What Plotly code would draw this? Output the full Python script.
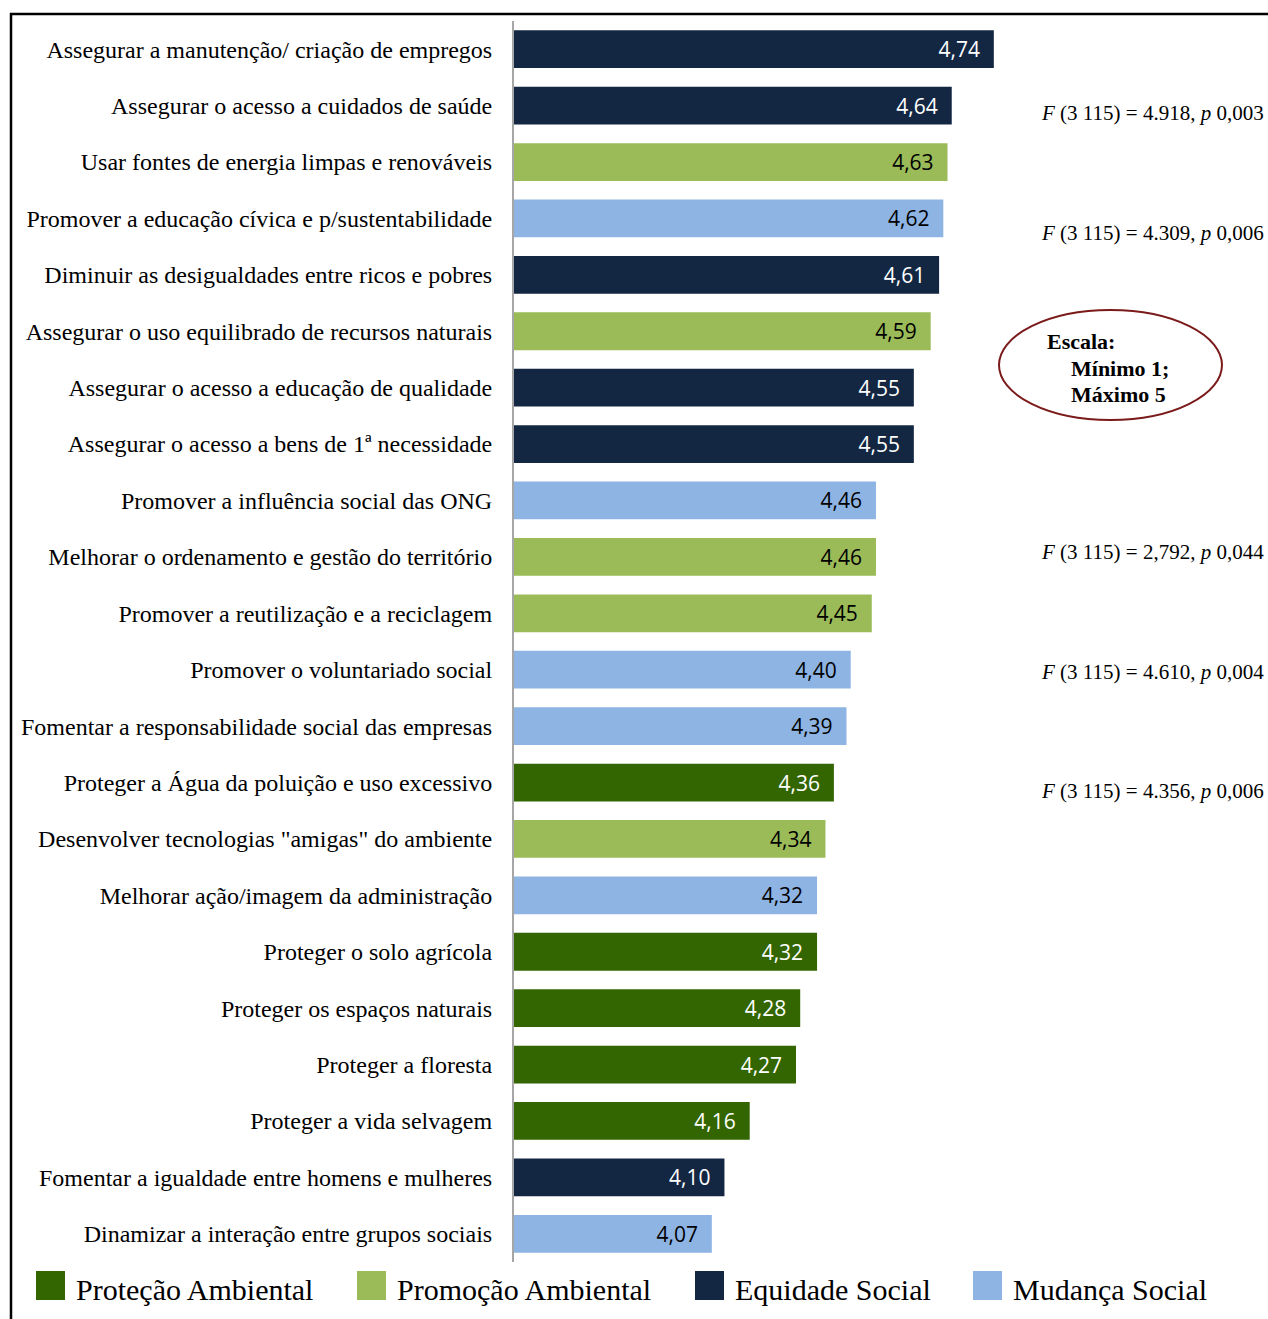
import plotly.graph_objects as go

categories = [
    "Assegurar a manutenção/ criação de empregos",
    "Assegurar o acesso a cuidados de saúde",
    "Usar fontes de energia limpas e renováveis",
    "Promover a educação cívica e p/sustentabilidade",
    "Diminuir as desigualdades entre ricos e pobres",
    "Assegurar o uso equilibrado de recursos naturais",
    "Assegurar o acesso a educação de qualidade",
    "Assegurar o acesso a bens de 1ª necessidade",
    "Promover a influência social das ONG",
    "Melhorar o ordenamento e gestão do território",
    "Promover a reutilização e a reciclagem",
    "Promover o voluntariado social",
    "Fomentar a responsabilidade social das empresas",
    "Proteger a Água da poluição e uso excessivo",
    "Desenvolver tecnologias \"amigas\" do ambiente",
    "Melhorar ação/imagem da administração",
    "Proteger o solo agrícola",
    "Proteger os espaços naturais",
    "Proteger a floresta",
    "Proteger a vida selvagem",
    "Fomentar a igualdade entre homens e mulheres",
    "Dinamizar a interação entre grupos sociais",
]
values = [4.74, 4.64, 4.63, 4.62, 4.61, 4.59, 4.55, 4.55, 4.46, 4.46, 4.45,
          4.40, 4.39, 4.36, 4.34, 4.32, 4.32, 4.28, 4.27, 4.16, 4.10, 4.07]
groups = ["ES", "ES", "PR", "MS", "ES", "PR", "ES", "ES", "MS", "PR", "PR",
          "MS", "MS", "PA", "PR", "MS", "PA", "PA", "PA", "PA", "ES", "MS"]

group_order = ["PA", "PR", "ES", "MS"]
group_names = {"PA": "Proteção Ambiental", "PR": "Promoção Ambiental",
               "ES": "Equidade Social", "MS": "Mudança Social"}
group_colors = {"PA": "#336600", "PR": "#9BBB59", "ES": "#132743", "MS": "#8EB4E3"}
group_text = {"PA": "white", "PR": "black", "ES": "white", "MS": "black"}

f_texts = [
    "<i>F</i> (3 115) = 4.918, <i>p</i> 0,003",
    "<i>F</i> (3 115) = 4.309, <i>p</i> 0,006",
    "<i>F</i> (3 115) = 2,792, <i>p</i> 0,044",
    "<i>F</i> (3 115) = 4.610, <i>p</i> 0,004",
    "<i>F</i> (3 115) = 4.356, <i>p</i> 0,006",
]
f_ypix = [113, 233, 552, 672, 791]

AXIS_MIN = 3.6

W, H = 1268, 1319
L, R, T, B = 514, 0, 21, 57
PW, PH = W - L - R, H - T - B


def px(x):
    return (x - L) / PW


def py(y):
    return (H - B - y) / PH


fig = go.Figure()
NB = "\u00a0\u00a0"
for g in group_order:
    ys = [c for c, gg in zip(categories, groups) if gg == g]
    xs = [v for v, gg in zip(values, groups) if gg == g]
    fig.add_trace(go.Bar(
        y=ys, x=[v - AXIS_MIN for v in xs], orientation="h", base=0,
        marker=dict(color=group_colors[g], line=dict(width=0)),
        text=[f"{v:.2f}".replace(".", ",") + NB for v in xs],
        textposition="inside", insidetextanchor="end", textangle=0,
        constraintext="none",
        textfont=dict(family="Open Sans", size=21, color=group_text[g]),
        showlegend=False, hoverinfo="skip",
    ))

x_max = AXIS_MIN + PW / 420.9

fig.update_layout(
    width=W, height=H,
    margin=dict(l=L, r=R, t=T, b=B, pad=0),
    paper_bgcolor="white", plot_bgcolor="white",
    bargap=0.33, barmode="overlay",
    xaxis=dict(range=[0, x_max - AXIS_MIN], visible=False),
    yaxis=dict(
        type="category", categoryorder="array", categoryarray=categories,
        range=[21.5, -0.5], showline=True, linecolor="#A6A6A6", linewidth=2,
        ticks="", showgrid=False, zeroline=False, ticklabelstandoff=15,
        tickfont=dict(family="Liberation Serif", size=24, color="black"),
    ),
)

annotations = []
for t, yy in zip(f_texts, f_ypix):
    annotations.append(dict(
        text=t, xref="paper", yref="paper", x=px(1266), y=py(yy),
        xanchor="right", yanchor="middle", showarrow=False,
        font=dict(family="Liberation Serif", size=21, color="black"),
    ))

# scale ellipse
shapes = [dict(type="circle", xref="paper", yref="paper",
               x0=px(999), x1=px(1222), y0=py(420), y1=py(310),
               line=dict(color="#7B1A1A", width=2))]
for t, xx, yy in [("Escala:", 1045, 341), ("Mínimo 1;", 1069, 368), ("Máximo 5", 1069, 394)]:
    annotations.append(dict(
        text=f"<b>{t}</b>", xref="paper", yref="paper", x=px(xx), y=py(yy),
        xanchor="left", yanchor="middle", showarrow=False,
        font=dict(family="Liberation Serif", size=22, color="black"),
    ))

# legend
legend_x = [36, 357, 695, 973]
for g, lx in zip(group_order, legend_x):
    shapes.append(dict(type="rect", xref="paper", yref="paper",
                       x0=px(lx), x1=px(lx + 29), y0=py(1300), y1=py(1271),
                       fillcolor=group_colors[g], line=dict(width=0)))
    annotations.append(dict(
        text=group_names[g], xref="paper", yref="paper", x=px(lx + 38), y=py(1289),
        xanchor="left", yanchor="middle", showarrow=False,
        font=dict(family="Liberation Serif", size=30, color="black"),
    ))

# frame
shapes.append(dict(type="line", xref="paper", yref="paper",
                   x0=px(10), x1=px(1270), y0=py(14), y1=py(14),
                   line=dict(color="black", width=2.5)))
shapes.append(dict(type="line", xref="paper", yref="paper",
                   x0=px(11), x1=px(11), y0=py(13), y1=py(1320),
                   line=dict(color="black", width=2.5)))

fig.update_layout(annotations=annotations, shapes=shapes)
fig.write_html("out.html")
